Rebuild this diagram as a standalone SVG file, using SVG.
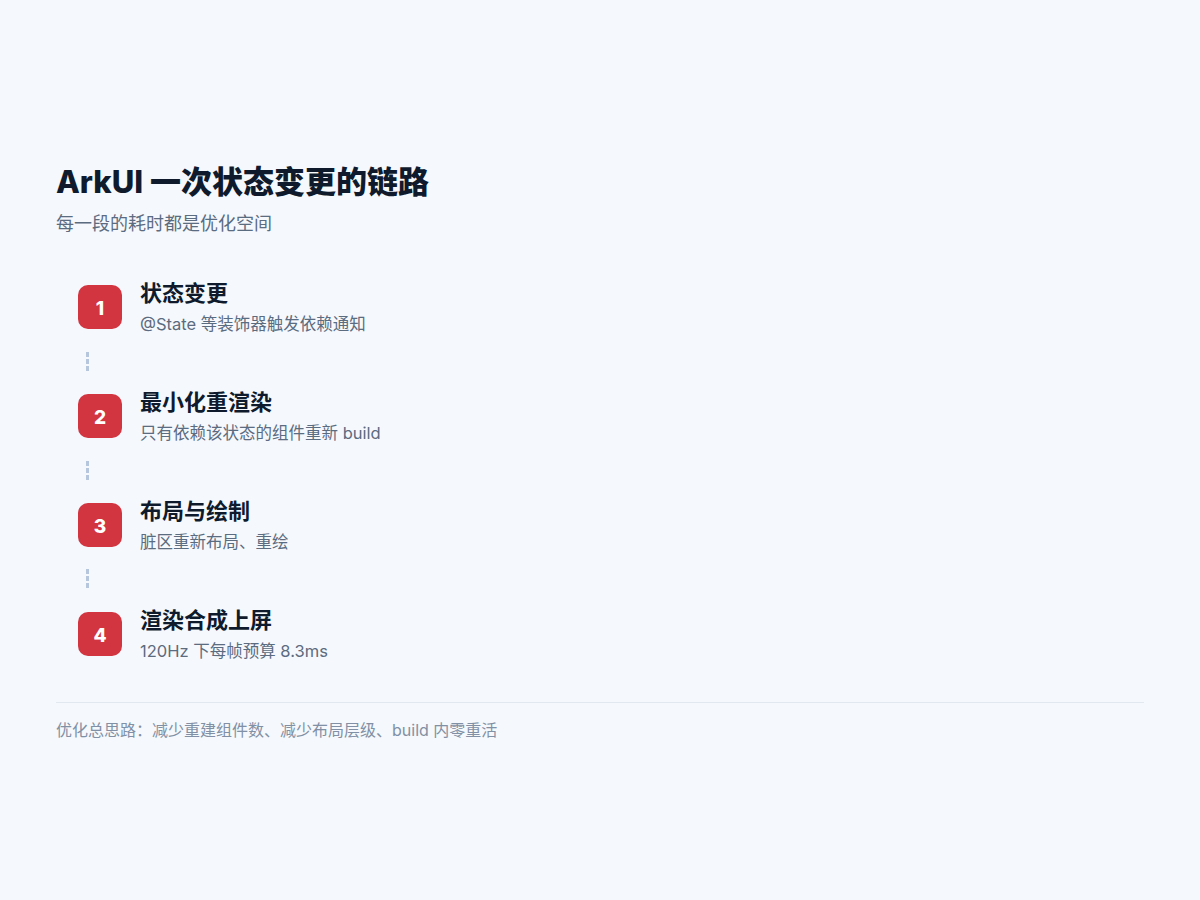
<svg xmlns="http://www.w3.org/2000/svg" width="1200" height="900" viewBox="0 0 1200 900">
<style>
.t{font-family:"Inter","Noto Sans CJK SC",sans-serif;}
.title{font-size:31px;font-weight:800;fill:#0f1b2d;}
.sub{font-size:18px;fill:#5b6b80;}
.badge{fill:#d23440;}
.num{font-size:19px;font-weight:800;fill:#ffffff;text-anchor:middle;}
.st{font-size:22px;font-weight:700;fill:#0f1b2d;}
.sd{font-size:16.5px;fill:#5b6b80;}
.conn{stroke:#b6c7dd;stroke-width:3;stroke-dasharray:5 2;fill:none;}
.foot{font-size:16px;fill:#8190a5;}
</style>
<rect width="1200" height="900" fill="#f5f8fc"/>
<text class="t title" x="56" y="193">ArkUI 一次状态变更的链路</text>
<text class="t sub" x="56" y="230">每一段的耗时都是优化空间</text>
<g id="connectors">
<line class="conn" x1="87.5" y1="352" x2="87.5" y2="372"/>
<line class="conn" x1="87.5" y1="461" x2="87.5" y2="481"/>
<line class="conn" x1="87.5" y1="569" x2="87.5" y2="589"/>
</g>
<g id="step1">
<rect class="badge" x="78" y="285" width="44" height="44" rx="10"/>
<text class="t num" x="100" y="314.5">1</text>
<text class="t st" x="140" y="301">状态变更</text>
<text class="t sd" x="140" y="330">@State 等装饰器触发依赖通知</text>
</g>
<g id="step2">
<rect class="badge" x="78" y="394" width="44" height="44" rx="10"/>
<text class="t num" x="100" y="423.5">2</text>
<text class="t st" x="140" y="410">最小化重渲染</text>
<text class="t sd" x="140" y="439">只有依赖该状态的组件重新 build</text>
</g>
<g id="step3">
<rect class="badge" x="78" y="503" width="44" height="44" rx="10"/>
<text class="t num" x="100" y="532.5">3</text>
<text class="t st" x="140" y="519">布局与绘制</text>
<text class="t sd" x="140" y="548">脏区重新布局、重绘</text>
</g>
<g id="step4">
<rect class="badge" x="78" y="612" width="44" height="44" rx="10"/>
<text class="t num" x="100" y="641.5">4</text>
<text class="t st" x="140" y="628">渲染合成上屏</text>
<text class="t sd" x="140" y="657">120Hz 下每帧预算 8.3ms</text>
</g>
<line x1="56" y1="702.5" x2="1144" y2="702.5" stroke="#e2e8f0" stroke-width="1"/>
<text class="t foot" x="56" y="736">优化总思路：减少重建组件数、减少布局层级、build 内零重活</text>
</svg>
